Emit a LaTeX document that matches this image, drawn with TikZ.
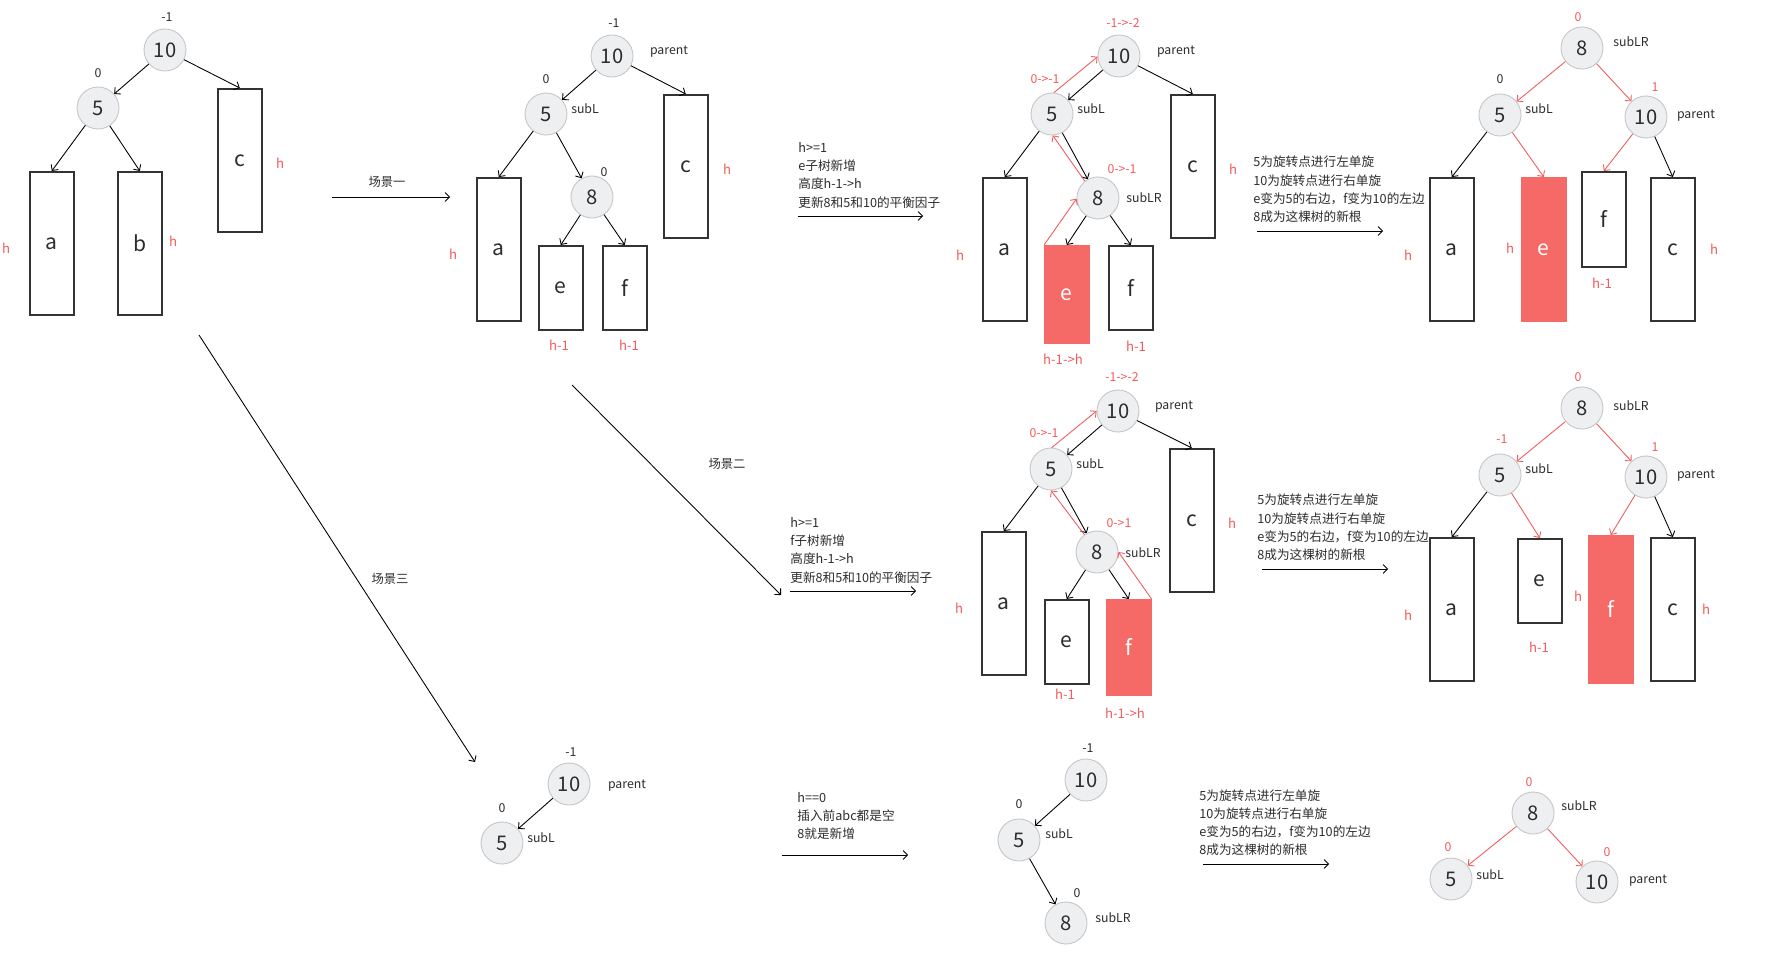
\documentclass[tikz,border=0pt]{standalone}
\usepackage{fontspec}
\setmainfont{Noto Sans CJK SC}
\usetikzlibrary{arrows.meta}
\definecolor{nodefill}{RGB}{238,239,241}
\definecolor{nodeline}{RGB}{198,198,202}
\definecolor{boxline}{RGB}{51,51,51}
\definecolor{hotfill}{RGB}{245,106,102}
\definecolor{hotline}{RGB}{242,92,92}
\definecolor{inktext}{RGB}{45,45,45}
\tikzset{
  avlnode/.style={circle,fill=nodefill,draw=nodeline,line width=0.5pt,minimum size=0.84cm,inner sep=0pt,font=\fontsize{11.5}{12}\selectfont,text=inktext},
  subtree/.style={draw=boxline,line width=0.9pt,fill=white,minimum width=0.88cm,inner sep=0pt,font=\fontsize{12}{12}\selectfont,text=inktext},
  hotsub/.style={subtree,fill=hotfill,draw=hotfill,text=white},
  bfblack/.style={font=\fontsize{7}{7}\selectfont,text=inktext,inner sep=0pt},
  bfred/.style={bfblack,text=hotline},
  hmark/.style={font=\fontsize{7.5}{7.5}\selectfont,text=hotline,inner sep=0pt},
  tag/.style={font=\fontsize{7}{7}\selectfont,text=inktext,inner sep=0pt},
  note/.style={font=\fontsize{7.2}{10.4}\selectfont,text=inktext,align=left,anchor=north west,inner sep=0pt},
  link/.style={-{Straight Barb[length=2.5pt,width=5pt]},line width=0.5pt,black},
  hotlink/.style={link,hotline},
}
\newcommand{\avl}[4]{\node[avlnode] (#1) at (#2,#3) {#4};}
\newcommand{\subtree}[6][subtree]{\node[#1,anchor=north west,minimum height={#5*0.02cm}] (#2) at (#3,#4) {#6};}
\newcommand{\lab}[5][bfblack]{\node[#1] (#2) at (#3,#4) {#5};}
\newcommand{\rotnote}{5为旋转点进行左单旋\\10为旋转点进行右单旋\\e变为5的右边，f变为10的左边\\8成为这棵树的新根}

\begin{document}
\begin{tikzpicture}[x=0.02cm,y=-0.02cm]
  \path[use as bounding box,fill=white] (0,0) rectangle (1777,956);
  % before insertion
  \avl{A10}{165}{50}{10}
  \avl{A5}{98}{108}{5}
  \subtree{Aa}{29}{171}{143}{a}
  \subtree{Ab}{117}{171}{143}{b}
  \subtree{Ac}{217}{88}{143}{c}
  \lab{A10bf}{167}{17}{-1}
  \lab{A5bf}{98}{73}{0}
  \draw[link] (A10) -- (A5);
  \draw[link] (A10) -- (Ac.north);
  \draw[link] (A5) -- (Aa.north);
  \draw[link] (A5) -- (Ab.north);
  % scene arrows
  \coordinate (S1a) at (332,197); \coordinate (S1b) at (450,197);
  \coordinate (S2a) at (572,385); \coordinate (S2b) at (781,595);
  \coordinate (S3a) at (199,335); \coordinate (S3b) at (475,762);
  \draw[link] (S1a) -- (S1b);
  \draw[link] (S2a) -- (S2b);
  \draw[link] (S3a) -- (S3b);
  \lab[tag]{S1lab}{387}{182}{场景一}
  \lab[tag]{S2lab}{727}{464}{场景二}
  \lab[tag]{S3lab}{390}{579}{场景三}
  % row 1, h>=1, e grows
  \avl{B10}{612}{56}{10}
  \avl{B5}{546}{114}{5}
  \avl{B8}{592}{197}{8}
  \subtree{Ba}{476}{177}{143}{a}
  \subtree{Be}{538}{245}{84}{e}
  \subtree{Bf}{602}{245}{84}{f}
  \subtree{Bc}{663}{94}{143}{c}
  \lab{B10bf}{614}{23}{-1}
  \lab[tag]{B10tag}{669}{52}{parent}
  \lab{B5bf}{546}{79}{0}
  \lab[tag]{B5tag}{585}{109}{subL}
  \lab{B8bf}{604}{172}{0}
  \draw[link] (B10) -- (B5);
  \draw[link] (B10) -- (Bc.north);
  \draw[link] (B5) -- (Ba.north);
  \draw[link] (B5) -- (B8);
  \draw[link] (B8) -- (Be.north);
  \draw[link] (B8) -- (Bf.north);
  \avl{C10}{1119}{56}{10}
  \avl{C5}{1052}{114}{5}
  \avl{C8}{1098}{198}{8}
  \subtree{Ca}{982}{177}{143}{a}
  \subtree[hotsub]{Ce}{1044}{245}{97}{e}
  \subtree{Cf}{1108}{245}{84}{f}
  \subtree{Cc}{1170}{94}{143}{c}
  \lab[bfred]{C10bf}{1123}{23}{-1->-2}
  \lab[tag]{C10tag}{1176}{52}{parent}
  \lab[bfred]{C5bf}{1045}{79}{0->-1}
  \lab[tag]{C5tag}{1091}{109}{subL}
  \lab[bfred]{C8bf}{1122}{169}{0->-1}
  \lab[tag]{C8tag}{1144}{198}{subLR}
  \draw[link] (C10) -- (C5);
  \draw[link] (C10) -- (Cc.north);
  \draw[link] (C5) -- (Ca.north);
  \draw[link] (C5) -- (C8);
  \draw[link] (C8) -- (Ce.north);
  \draw[link] (C8) -- (Cf.north);
  \draw[hotlink] (C5.85) -- (C10.182);
  \draw[hotlink] (C8.128) -- (C5.272);
  \draw[hotlink] (Ce.north west) -- (C8.182);
  \avl{D8}{1582}{48}{8}
  \avl{D5}{1500}{115}{5}
  \avl{D10}{1646}{117}{10}
  \subtree{Da}{1429}{177}{143}{a}
  \subtree[hotsub]{De}{1521}{177}{143}{e}
  \subtree{Df}{1581}{171}{95}{f}
  \subtree{Dc}{1650}{177}{143}{c}
  \lab[bfred]{D8bf}{1578}{17}{0}
  \lab[tag]{D8tag}{1631}{42}{subLR}
  \lab{D5bf}{1500}{79}{0}
  \lab[tag]{D5tag}{1539}{109}{subL}
  \lab[bfred]{D10bf}{1655}{87}{1}
  \lab[tag]{D10tag}{1696}{116}{parent}
  \draw[hotlink] (D8) -- (D5);
  \draw[hotlink] (D8) -- (D10);
  \draw[link] (D5) -- (Da.north);
  \draw[hotlink] (D5) -- (De.north);
  \draw[hotlink] (D10) -- (Df.north);
  \draw[link] (D10) -- (Dc.north);
  % row 2, h>=1, f grows
  \avl{E10}{1118}{411}{10}
  \avl{E5}{1051}{469}{5}
  \avl{E8}{1097}{552}{8}
  \subtree{Ea}{981}{531}{143}{a}
  \subtree{Ee}{1044}{599}{84}{e}
  \subtree[hotsub]{Ef}{1106}{599}{95}{f}
  \subtree{Ec}{1169}{448}{143}{c}
  \lab[bfred]{E10bf}{1122}{377}{-1->-2}
  \lab[tag]{E10tag}{1174}{407}{parent}
  \lab[bfred]{E5bf}{1044}{433}{0->-1}
  \lab[tag]{E5tag}{1090}{464}{subL}
  \lab[bfred]{E8bf}{1119}{523}{0->1}
  \lab[tag]{E8tag}{1143}{553}{subLR}
  \draw[link] (E10) -- (E5);
  \draw[link] (E10) -- (Ec.north);
  \draw[link] (E5) -- (Ea.north);
  \draw[link] (E5) -- (E8);
  \draw[link] (E8) -- (Ee.north);
  \draw[link] (E8) -- (Ef.north);
  \draw[hotlink] (E5.88) -- (E10.180);
  \draw[hotlink] (E8.126) -- (E5.270);
  \draw[hotlink] (Ef.north east) -- (E8.0);
  \avl{F8}{1582}{408}{8}
  \avl{F5}{1500}{475}{5}
  \avl{F10}{1646}{477}{10}
  \subtree{Fa}{1429}{537}{143}{a}
  \subtree{Fe}{1517}{538}{84}{e}
  \subtree[hotsub]{Ff}{1588}{535}{147}{f}
  \subtree{Fc}{1650}{537}{143}{c}
  \lab[bfred]{F8bf}{1578}{377}{0}
  \lab[tag]{F8tag}{1631}{406}{subLR}
  \lab[bfred]{F5bf}{1502}{439}{-1}
  \lab[tag]{F5tag}{1539}{469}{subL}
  \lab[bfred]{F10bf}{1655}{447}{1}
  \lab[tag]{F10tag}{1696}{476}{parent}
  \draw[hotlink] (F8) -- (F5);
  \draw[hotlink] (F8) -- (F10);
  \draw[link] (F5) -- (Fa.north);
  \draw[hotlink] (F5) -- (Fe.north);
  \draw[hotlink] (F10) -- (Ff.north);
  \draw[link] (F10) -- (Fc.north);
  % row 3, h==0
  \avl{G10}{569}{784}{10}
  \avl{G5}{502}{843}{5}
  \lab{G10bf}{571}{752}{-1}
  \lab[tag]{G10tag}{627}{786}{parent}
  \lab{G5bf}{502}{808}{0}
  \lab[tag]{G5tag}{541}{838}{subL}
  \draw[link] (G10) -- (G5);
  \avl{H10}{1086}{780}{10}
  \avl{H5}{1019}{840}{5}
  \avl{H8}{1066}{923}{8}
  \lab{H10bf}{1088}{748}{-1}
  \lab{H5bf}{1019}{804}{0}
  \lab[tag]{H5tag}{1059}{834}{subL}
  \lab{H8bf}{1077}{893}{0}
  \lab[tag]{H8tag}{1113}{918}{subLR}
  \draw[link] (H10) -- (H5);
  \draw[link] (H5) -- (H8);
  \avl{I8}{1533}{813}{8}
  \avl{I5}{1451}{879}{5}
  \avl{I10}{1597}{882}{10}
  \lab[bfred]{I8bf}{1529}{782}{0}
  \lab[tag]{I8tag}{1579}{806}{subLR}
  \lab[bfred]{I5bf}{1448}{847}{0}
  \lab[tag]{I5tag}{1490}{875}{subL}
  \lab[bfred]{I10bf}{1607}{852}{0}
  \lab[tag]{I10tag}{1648}{881}{parent}
  \draw[hotlink] (I8) -- (I5);
  \draw[hotlink] (I8) -- (I10);
  % subtree heights
  \foreach \n/\x/\y/\t in {Ah1/6/248/h,Ah2/173/241/h,Ah3/280/163/h,
      Bh1/453/254/h,Bh2/727/169/h,Bh3/559/345/h-1,Bh4/629/345/h-1,
      Ch1/960/255/h,Ch2/1233/169/h,Ch3/1063/359/h-1->h,Ch4/1136/346/h-1,
      Dh1/1408/255/h,Dh2/1510/248/h,Dh3/1602/283/h-1,Dh4/1714/249/h,
      Eh1/959/608/h,Eh2/1232/523/h,Eh3/1065/694/h-1,Eh4/1125/713/h-1->h,
      Fh1/1408/615/h,Fh2/1578/596/h,Fh3/1539/647/h-1,Fh4/1706/609/h}
    \node[hmark] (\n) at (\x,\y) {\t};
  % notes
  \node[note] (N1) at (798,142) {h>=1\\e子树新增\\高度h-1->h\\更新8和5和10的平衡因子};
  \node[note] (N2) at (1253,156) {\rotnote};
  \node[note] (N3) at (790,517) {h>=1\\f子树新增\\高度h-1->h\\更新8和5和10的平衡因子};
  \node[note] (N4) at (1257,494) {\rotnote};
  \node[note] (N5) at (797,792) {h==0\\插入前abc都是空\\8就是新增};
  \node[note] (N6) at (1199,789) {\rotnote};
  \foreach \n/\xa/\xb/\y in {N1/798/923/216,N2/1257/1383/231,N3/790/916/591,
      N4/1262/1388/569,N5/782/908/855,N6/1203/1329/864}{
    \coordinate (\n a) at (\xa,\y);
    \coordinate (\n b) at (\xb,\y);
    \draw[link] (\n a) -- (\n b);
  }
\end{tikzpicture}
\end{document}
